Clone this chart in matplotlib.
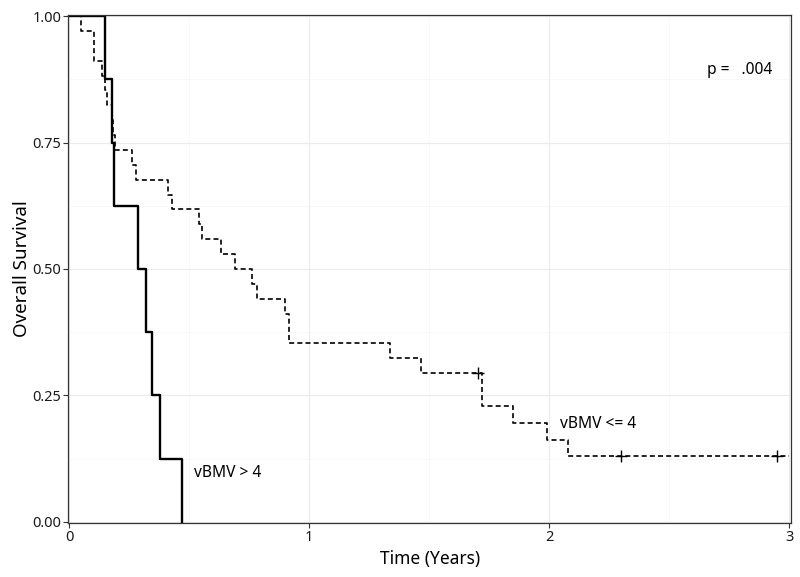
import matplotlib.pyplot as plt
from matplotlib.ticker import MultipleLocator

# vBMV <= 4 group (dashed curve)
low_time = [0, 0.05, 0.105, 0.136, 0.15, 0.16, 0.178, 0.184, 0.19, 0.264, 0.28,
            0.411, 0.43, 0.541, 0.555, 0.633, 0.692, 0.761, 0.785, 0.9, 0.918,
            1.335, 1.467, 1.72, 1.851, 1.993, 2.08, 3.0]
low_surv = [1.0, 0.971, 0.912, 0.882, 0.853, 0.824, 0.794, 0.765, 0.735, 0.706, 0.676,
            0.647, 0.618, 0.588, 0.559, 0.529, 0.5, 0.471, 0.441, 0.412, 0.353,
            0.324, 0.294, 0.229, 0.196, 0.163, 0.131, 0.131]
low_cens_time = [1.705, 2.30, 2.95]
low_cens_surv = [0.294, 0.131, 0.131]

# vBMV > 4 group (solid curve)
high_time = [0, 0.15, 0.178, 0.1875, 0.286, 0.32, 0.345, 0.379, 0.47]
high_surv = [1.0, 0.875, 0.75, 0.625, 0.5, 0.375, 0.25, 0.125, 0.0]

xticks = [0, 1, 2, 3]
yticks = [0.0, 0.25, 0.5, 0.75, 1.0]
ytick_labels = ["0.00", "0.25", "0.50", "0.75", "1.00"]

plt.rcParams['font.family'] = ['Noto Sans', 'DejaVu Sans']
plt.rcParams['font.stretch'] = 'condensed'

fig = plt.figure(figsize=(8, 5.77), dpi=100)
ax = fig.add_axes([0.085, 0.0936, 0.904, 0.8804])

ax.step(low_time, low_surv, where='post', color='black', lw=1.2,
        linestyle=(0, (3.0, 1.9)))
ax.plot(low_cens_time, low_cens_surv, '+', color='black', ms=8, mew=1.0)
ax.step(high_time, high_surv, where='post', color='black', lw=1.7)

ax.text(0.52, 0.097, "vBMV > 4", fontsize=11.2, va='center', ha='left')
ax.text(2.045, 0.194, "vBMV <= 4", fontsize=11.2, va='center', ha='left')
ax.text(2.93, 0.893, "p =   .004", fontsize=11.2, va='center', ha='right')

ax.set_xlim(-0.004, 3.008)
ax.set_ylim(-0.002, 1.002)
ax.set_xticks(xticks)
ax.set_yticks(yticks)
ax.set_yticklabels(ytick_labels)
ax.xaxis.set_minor_locator(MultipleLocator(0.5))
ax.yaxis.set_minor_locator(MultipleLocator(0.125))
ax.grid(which='major', color='#EBEBEB', lw=0.8)
ax.grid(which='minor', color='#F5F5F5', lw=0.5)
ax.set_axisbelow(True)
ax.tick_params(which='major', length=3.5, width=0.8, color='#333333',
               labelsize=10.5, labelcolor='#1a1a1a', pad=1.5)
ax.tick_params(which='minor', length=0)
for s in ax.spines.values():
    s.set_color('#333333')
    s.set_linewidth(0.9)

ax.set_xlabel("Time (Years)", fontsize=12.5, labelpad=4)
ax.set_ylabel("Overall Survival", fontsize=13.5, labelpad=1)

fig.savefig("out.png", dpi=100)
